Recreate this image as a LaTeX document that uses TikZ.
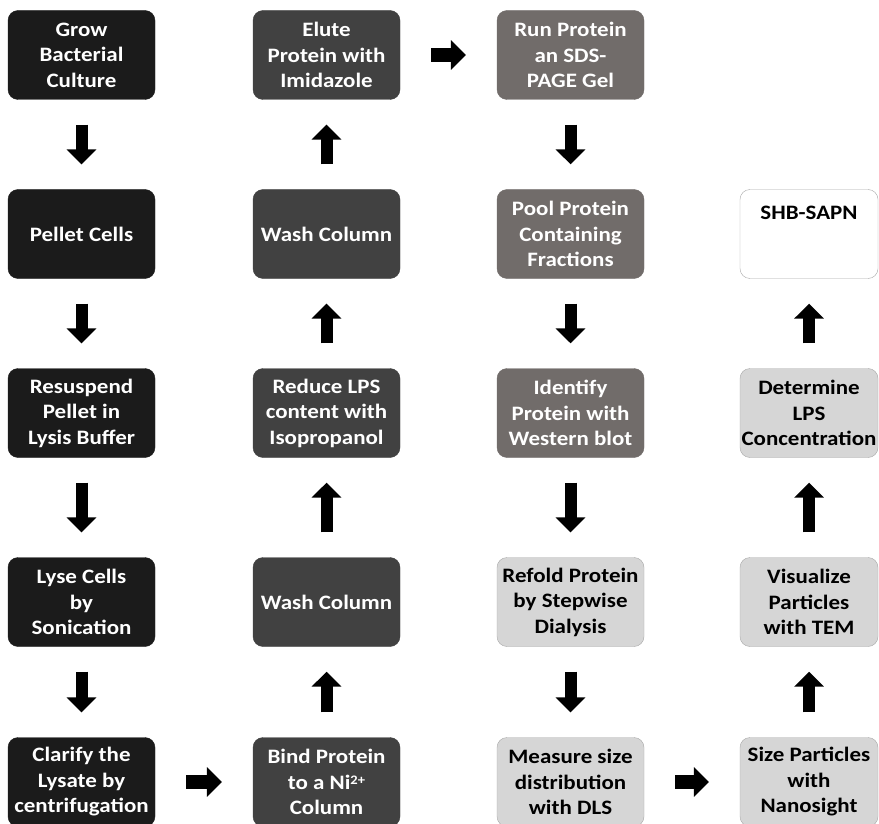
\documentclass[tikz,border=0pt]{standalone}
\usepackage{fontspec}
\setmainfont{Carlito}[FakeStretch=1.12]
\usetikzlibrary{arrows.meta}

\definecolor{blackbox}{HTML}{1B1B1B}
\definecolor{darkbox}{HTML}{414141}
\definecolor{midbox}{HTML}{716C6A}
\definecolor{lightbox}{HTML}{D6D6D6}
\definecolor{boxline}{HTML}{A8A8A8}

\tikzset{
  stage/.style={rectangle, rounded corners=10pt, minimum width=147pt, minimum height=89pt,
    inner sep=0pt, align=center, font=\fontsize{20.5}{25.5}\selectfont\bfseries},
  stageA/.style={stage, fill=blackbox, draw=blackbox, text=white},
  stageB/.style={stage, fill=darkbox, draw=darkbox, text=white},
  stageC/.style={stage, fill=midbox, draw=midbox, text=white},
  stageD/.style={stage, fill=lightbox, draw=boxline, text=black},
  stageE/.style={stage, fill=white, draw=boxline, text=black},
  vflow/.style={-{Triangle[width=29pt,length=15pt]}, line width=12pt, shorten <=25pt, shorten >=25pt},
  hflow/.style={-{Triangle[width=29pt,length=15pt]}, line width=14pt, shorten <=31pt, shorten >=31pt}
}

\begin{document}
\begin{tikzpicture}[x=1pt, y=1pt]
    \useasboundingbox (0,0) rectangle (879,-824);

    \node[stageA] (grow)      at (81.5,-55)  {Grow\\Bacterial\\Culture};
    \node[stageA] (pellet)    at (81.5,-234) {Pellet Cells};
    \node[stageA] (resuspend) at (81.5,-413) {Resuspend\\Pellet in\\Lysis Buffer};
    \node[stageA] (lyse)      at (81.5,-602) {Lyse Cells\\by\\Sonication};
    \node[stageA] (clarify)   at (81.5,-782) {Clarify the\\Lysate by\\centrifugation};

    \node[stageB] (bind)   at (326.5,-782) {Bind Protein\\to a Ni{\fontsize{13}{13}\selectfont\raisebox{5pt}{2+}}\\Column};
    \node[stageB] (washa)  at (326.5,-602) {Wash Column};
    \node[stageB] (reduce) at (326.5,-413) {Reduce LPS\\content with\\Isopropanol};
    \node[stageB] (washb)  at (326.5,-234) {Wash Column};
    \node[stageB] (elute)  at (326.5,-55)  {Elute\\Protein with\\Imidazole};

    \node[stageC] (run)      at (570.5,-55)  {Run Protein\\an SDS-\\PAGE Gel};
    \node[stageC] (pool)     at (570.5,-234) {Pool Protein\\Containing\\Fractions};
    \node[stageC] (identify) at (570.5,-413) {Identify\\Protein with\\Western blot};
    \node[stageD] (refold)   at (570.5,-602) {Refold Protein\\by Stepwise\\Dialysis};
    \node[stageD] (measure)  at (570.5,-782) {Measure size\\distribution\\with DLS};

    \node[stageD, minimum width=138pt] (size)      at (809,-782) {Size Particles\\with\\Nanosight};
    \node[stageD, minimum width=138pt] (visualize) at (809,-602) {Visualize\\Particles\\with TEM};
    \node[stageD, minimum width=138pt] (determine) at (809,-413) {Determine\\LPS\\Concentration};
    \node[stageE, minimum width=138pt, text depth=42pt] (shb) at (809,-234) {SHB-SAPN};

    \draw[vflow] (grow) -- (pellet);
    \draw[vflow] (pellet) -- (resuspend);
    \draw[vflow] (resuspend) -- (lyse);
    \draw[vflow] (lyse) -- (clarify);
    \draw[hflow] (clarify) -- (bind);
    \draw[vflow] (bind) -- (washa);
    \draw[vflow] (washa) -- (reduce);
    \draw[vflow] (reduce) -- (washb);
    \draw[vflow] (washb) -- (elute);
    \draw[hflow] (elute) -- (run);
    \draw[vflow] (run) -- (pool);
    \draw[vflow] (pool) -- (identify);
    \draw[vflow] (identify) -- (refold);
    \draw[vflow] (refold) -- (measure);
    \draw[hflow] (measure) -- (size);
    \draw[vflow] (size) -- (visualize);
    \draw[vflow] (visualize) -- (determine);
    \draw[vflow] (determine) -- (shb);

\end{tikzpicture}
\end{document}
